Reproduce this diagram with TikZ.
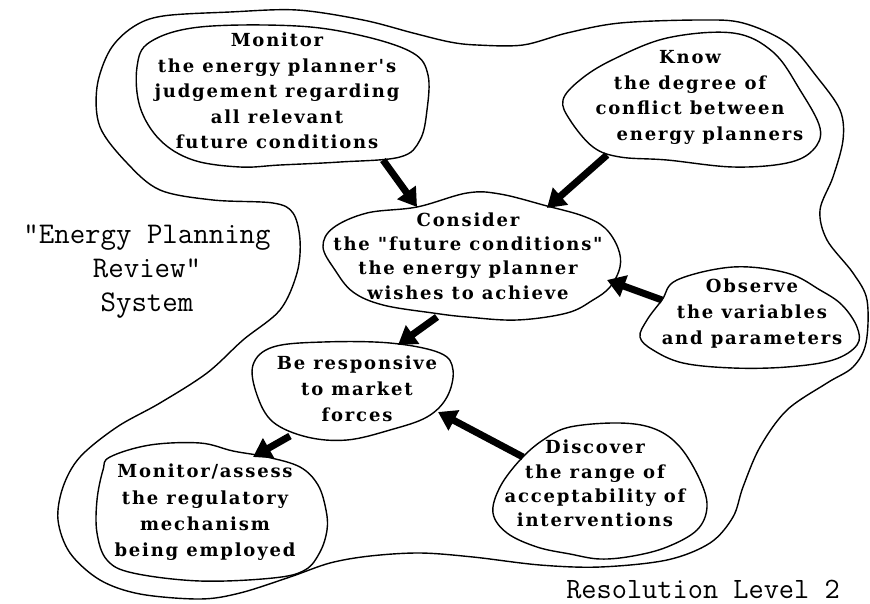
\documentclass[tikz,border=0pt]{standalone}
\usepackage{fontspec}
\newfontfamily\blobfont{DejaVu Serif}[LetterSpace=10]
\usetikzlibrary{arrows.meta}
\tikzset{
 blob/.style={draw=black, line width=1.4pt, line join=round},
 boundary/.style={draw=black, line width=1.4pt, line join=round},
 btext/.style={align=center, inner sep=0pt, font=\blobfont\bfseries\fontsize{18}{25.5}\selectfont},
 bigarrow/.style={line width=7pt, -{Triangle[length=18pt,width=22pt]}},
 lbl/.style={font=\ttfamily\fontsize{30}{34}\selectfont, align=center, inner sep=0pt}
}
\begin{document}
\begin{tikzpicture}[x=1pt,y=-1pt]
\useasboundingbox (0,0) rectangle (870,603);
\fill[white] (0,0) rectangle (870,603);

% outer system boundary
\draw[boundary] plot[smooth cycle, tension=0.55] coordinates {
 (230,12) (297,10) (363,20) (413,33) (450,42) (477,45) (523,45) (567,33) (620,23)
 (700,20) (743,23) (787,43) (817,77) (840,110) (843,140) (833,177) (820,210)
 (827,240) (853,273) (867,300) (866,343) (853,367) (827,383) (787,410) (760,447)
 (743,487) (733,517) (710,543) (667,560) (600,567) (540,565) (473,557) (420,553)
 (370,556) (330,563) (290,577) (240,593) (200,599) (140,594) (100,580) (70,553)
 (58,520) (63,487) (80,457) (117,427) (160,403) (207,373) (243,340) (280,310)
 (297,273) (300,240) (293,213) (273,203) (213,200) (160,190) (127,163) (100,127)
 (97,87) (110,50) (133,27) (163,16)};

% blobs
\draw[blob] plot[smooth cycle, tension=0.6] coordinates {
 (150,42) (200,27) (297,26) (363,36) (413,53) (428,75) (427,110) (420,140) (400,157)
 (340,162) (280,165) (240,167) (193,160) (160,140) (140,107) (137,67)};
\draw[blob] plot[smooth cycle, tension=0.6] coordinates {
 (563,100) (580,80) (612,60) (667,38) (733,33) (773,52) (800,90) (820,128) (813,150)
 (787,163) (733,167) (667,160) (620,157) (593,147) (570,120)};
\draw[blob] plot[smooth cycle, tension=0.6] coordinates {
 (417,207) (467,193) (500,194) (547,206) (583,216) (605,228) (618,248) (620,267)
 (610,287) (593,300) (567,313) (517,320) (467,317) (433,313) (383,305) (353,292)
 (335,270) (323,247) (333,228) (367,213)};
\draw[blob] plot[smooth cycle, tension=0.6] coordinates {
 (677,280) (733,267) (787,273) (820,290) (842,305) (857,327) (857,345) (833,360)
 (787,367) (733,368) (683,363) (653,350) (640,337) (647,320) (662,300)};
\draw[blob] plot[smooth cycle, tension=0.6] coordinates {
 (273,347) (323,342) (390,343) (440,353) (453,370) (447,397) (427,417) (390,430)
 (347,440) (307,437) (273,422) (257,395) (253,365)};
\draw[blob] plot[smooth cycle, tension=0.6] coordinates {
 (110,457) (150,445) (200,443) (233,451) (267,457) (300,467) (318,485) (326,510)
 (327,530) (320,552) (305,570) (273,578) (200,581) (133,573) (107,560) (97,533)
 (97,500) (103,470)};
\draw[blob] plot[smooth cycle, tension=0.6] coordinates {
 (543,440) (570,427) (620,423) (655,429) (680,447) (700,480) (707,507) (697,530)
 (667,547) (633,556) (600,559) (570,554) (537,547) (507,533) (493,513) (500,487)
 (520,460)};

% texts
\node[btext] (mon) at (277,91) {Monitor\\the energy planner's\\judgement regarding\\all relevant\\future conditions};
\node[btext] (know) at (690,97.5) {Know\\the degree of\\conflict between\\\hspace*{40pt}energy planners};
\node[btext, font=\blobfont\bfseries\fontsize{18}{24.3}\selectfont] (con) at (468,256) {Consider\\the "future conditions"\\the energy planner\\wishes to achieve};
\node[btext, font=\blobfont\bfseries\fontsize{18}{26}\selectfont] (obs) at (752,314) {Observe\\the variables\\and parameters};
\node[btext, font=\blobfont\bfseries\fontsize{18}{26}\selectfont] (resp) at (357,389) {Be responsive\\to market\\forces};
\node[btext, font=\blobfont\bfseries\fontsize{18}{26.3}\selectfont] (mass) at (205,512.5) {Monitor/assess\\the regulatory\\mechanism\\being employed};
\node[btext, font=\blobfont\bfseries\fontsize{18}{24.3}\selectfont] (disc) at (595,483.5) {Discover\\the range of\\acceptability of\\interventions};

\node[lbl] (sys) at (147,272) {"Energy Planning\\Review"\\System};
\node[lbl, font=\ttfamily\fontsize{29.5}{34}\selectfont] (res) at (703,589) {Resolution Level 2};

% arrow end points on the blob outlines
\coordinate (mon-out) at (383,160);
\coordinate (con-in1) at (417,207);
\coordinate (know-out) at (607,155);
\coordinate (con-in2) at (547,208);
\coordinate (obs-out) at (662,300);
\coordinate (con-in3) at (607,280);
\coordinate (con-out) at (437,317);
\coordinate (resp-in1) at (398,345);
\coordinate (disc-out) at (523,457);
\coordinate (resp-in2) at (438,412);
\coordinate (resp-out) at (290,436);
\coordinate (mass-in) at (253,457);

\draw[bigarrow] (mon-out) -- (con-in1);
\draw[bigarrow] (know-out) -- (con-in2);
\draw[bigarrow] (obs-out) -- (con-in3);
\draw[bigarrow] (con-out) -- (resp-in1);
\draw[bigarrow] (disc-out) -- (resp-in2);
\draw[bigarrow] (resp-out) -- (mass-in);
\end{tikzpicture}
\end{document}
